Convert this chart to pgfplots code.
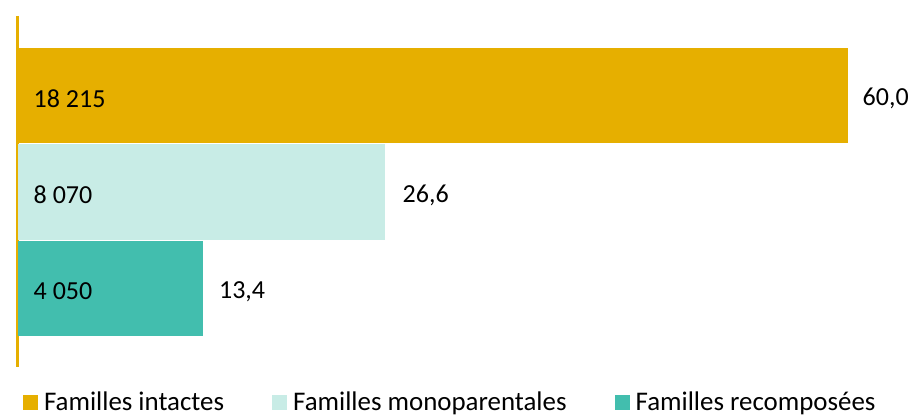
\documentclass[border=0pt]{standalone}
\usepackage{pgfplots}
\pgfplotsset{compat=1.18}
\usepackage{fontspec}
\setmainfont{Carlito}
\definecolor{cGold}{RGB}{230,175,0}
\definecolor{cLight}{RGB}{200,236,230}
\definecolor{cTeal}{RGB}{66,190,174}
\begin{document}
\fontsize{26bp}{31bp}\selectfont
\begin{tikzpicture}
\begin{axis}[
  scale only axis,
  width=830bp, height=351bp,
  xmin=0, xmax=60,
  ymin=-0.824, ymax=2.813,
  y dir=reverse,
  axis x line=none,
  axis y line*=left,
  y axis line style={draw=cGold, line width=2.5bp, -},
  ytick=\empty,
  clip=false,
  bar shift=0pt,
  bar width=95.5bp,
  legend columns=3,
  legend style={
    at={(rel axis cs:0.00663,-0.1040)}, anchor=west,
    draw=none, fill=none, inner sep=0pt, outer sep=0pt,
    font=\fontsize{26.9bp}{31bp}\selectfont,
    nodes={inner sep=0pt, anchor=west},
    /tikz/every odd column/.append style={column sep=6bp},
    /tikz/every even column/.append style={column sep=48bp},
  },
  legend image code/.code={\fill[#1] (0bp,-6bp) rectangle (15bp,9bp);},
]
% bars with percentage labels
\addplot[xbar, fill=cGold, draw=none,
  nodes near coords, point meta=explicit symbolic,
  every node near coord/.style={anchor=west, inner sep=0pt, xshift=15bp, yshift=-3bp, font=\fontsize{26bp}{31bp}\selectfont}]
  coordinates {(60.0,0) [60,0]};
\addlegendentry{Familles intactes}
\addplot[xbar, fill=cLight, draw=none,
  nodes near coords, point meta=explicit symbolic,
  every node near coord/.style={anchor=west, inner sep=0pt, xshift=17bp, yshift=-3bp, font=\fontsize{26bp}{31bp}\selectfont}]
  coordinates {(26.6,1) [26,6]};
\addlegendentry{Familles monoparentales}
\addplot[xbar, fill=cTeal, draw=none,
  nodes near coords, point meta=explicit symbolic,
  every node near coord/.style={anchor=west, inner sep=0pt, xshift=16bp, yshift=-3bp, font=\fontsize{26bp}{31bp}\selectfont}]
  coordinates {(13.4,2) [13,4]};
\addlegendentry{Familles recomposées}
% counts inside bars
\addplot[forget plot, only marks, mark=none,
  nodes near coords, point meta=explicit symbolic,
  every node near coord/.style={anchor=west, inner sep=0pt, xshift=16bp, yshift=-3bp, font=\fontsize{26bp}{31bp}\selectfont}]
  coordinates {(0,0) [18 215] (0,1) [8 070] (0,2) [4 050]};
\end{axis}
\pgfresetboundingbox
\path[use as bounding box] (-17.5bp,-50bp) rectangle (894.5bp,367bp);
\end{tikzpicture}
\end{document}
